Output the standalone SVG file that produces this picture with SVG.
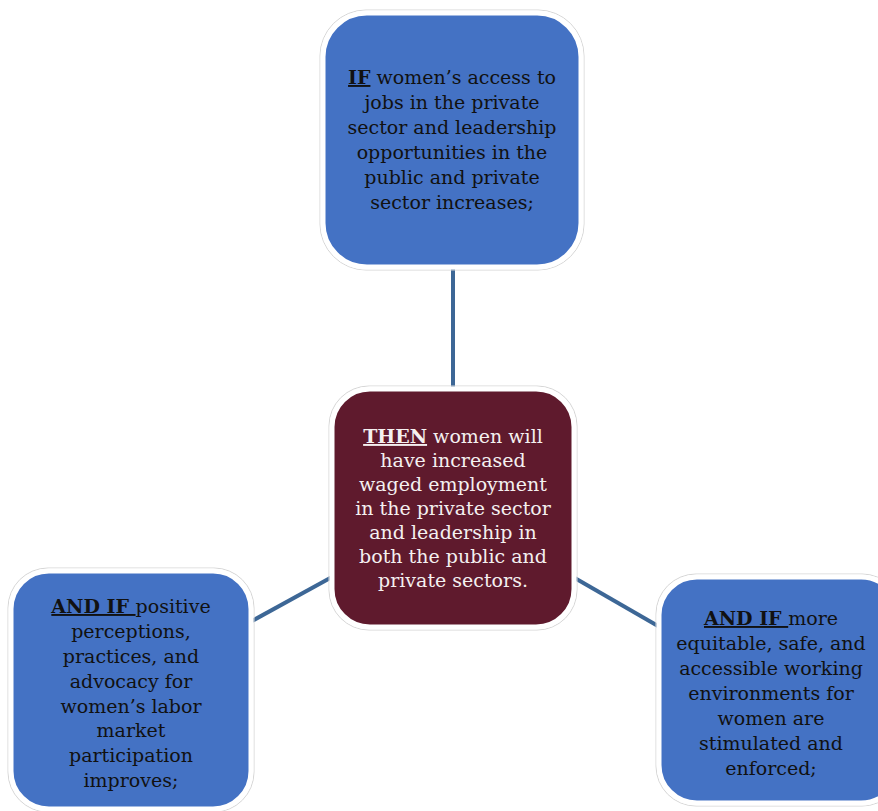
<svg xmlns="http://www.w3.org/2000/svg" width="878" height="811" viewBox="0 0 878 811">
<style>
.box{stroke:#ffffff;stroke-width:5}
.outline{fill:none;stroke:#d6d6d6;stroke-width:1}
.blue{fill:#4472C4}
.maroon{fill:#5F1A2D}
.t{font-family:"DejaVu Serif","Liberation Serif",serif;font-size:19px;text-anchor:middle}
.dark{fill:#111111}
.light{fill:#f4f0f0}
.b{font-weight:bold;text-decoration:underline}
.conn{stroke:#3D6796;stroke-width:4;fill:none}
</style>
<rect width="878" height="811" fill="#ffffff"/>
<g id="connectors">
<line class="conn" x1="453" y1="268" x2="453" y2="389"/>
<line class="conn" x1="252" y1="621" x2="332" y2="577"/>
<line class="conn" x1="573" y1="577" x2="658" y2="626"/>
</g>
<g id="node-top">
<rect class="outline" x="320" y="10" width="264" height="260" rx="46"/>
<rect class="box blue" x="323" y="13" width="258" height="254" rx="44"/>
<text class="t dark"><tspan x="452" y="84"><tspan class="b">IF</tspan> women’s access to</tspan><tspan x="452" y="109">jobs in the private</tspan><tspan x="452" y="134">sector and leadership</tspan><tspan x="452" y="159">opportunities  in the</tspan><tspan x="452" y="184">public and private</tspan><tspan x="452" y="209">sector increases;</tspan></text>
</g>
<g id="node-center">
<rect class="outline" x="329" y="386" width="248" height="244" rx="40"/>
<rect class="box maroon" x="332" y="389" width="242" height="238" rx="38"/>
<text class="t light"><tspan x="453" y="443"><tspan class="b">THEN</tspan> women will</tspan><tspan x="453" y="467">have increased</tspan><tspan x="453" y="491">waged employment</tspan><tspan x="453" y="515">in the private sector</tspan><tspan x="453" y="539">and leadership  in</tspan><tspan x="453" y="563">both the public and</tspan><tspan x="453" y="587">private sectors.</tspan></text>
</g>
<g id="node-left">
<rect class="outline" x="8" y="568" width="246" height="244" rx="40"/>
<rect class="box blue" x="11" y="571" width="240" height="238" rx="38"/>
<text class="t dark"><tspan x="131" y="613"><tspan class="b">AND IF </tspan>positive</tspan><tspan x="131" y="638">perceptions,</tspan><tspan x="131" y="663">practices, and</tspan><tspan x="131" y="688">advocacy for</tspan><tspan x="131" y="713">women’s labor</tspan><tspan x="131" y="737">market</tspan><tspan x="131" y="762">participation</tspan><tspan x="131" y="787">improves;</tspan></text>
</g>
<g id="node-right">
<rect class="outline" x="656" y="574" width="246" height="232" rx="40"/>
<rect class="box blue" x="659" y="577" width="240" height="226" rx="38"/>
<text class="t dark"><tspan x="771" y="625"><tspan class="b">AND IF </tspan>more</tspan><tspan x="771" y="650">equitable, safe, and</tspan><tspan x="771" y="675">accessible working</tspan><tspan x="771" y="700">environments for</tspan><tspan x="771" y="725">women are</tspan><tspan x="771" y="750">stimulated and</tspan><tspan x="771" y="775">enforced;</tspan></text>
</g>
</svg>
